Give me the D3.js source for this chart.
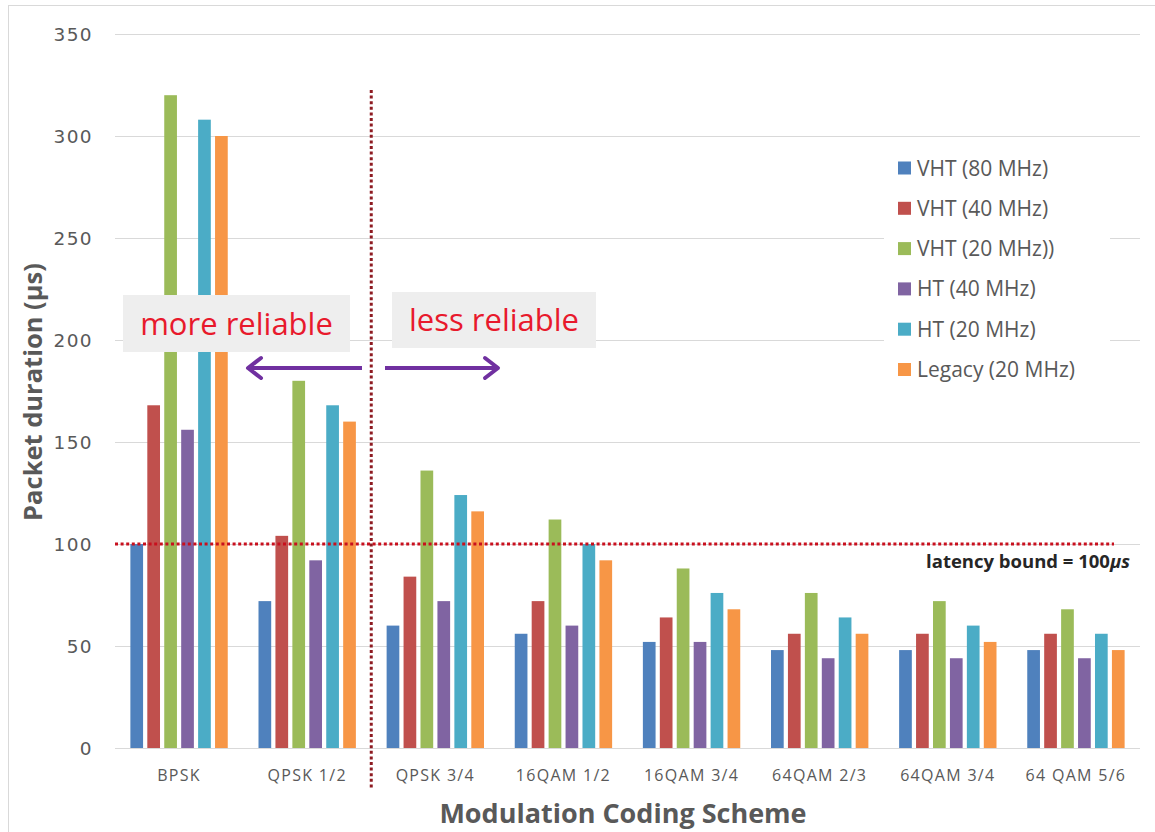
<!DOCTYPE html>
<html>
<head>
<meta charset="utf-8">
<script src="https://cdn.jsdelivr.net/npm/d3@7"></script>
<style>
  html, body { margin: 0; padding: 0; background: #fff; }
  svg { display: block; }
</style>
</head>
<body>
<svg id="chart" width="1155" height="832"></svg>
<script>
// ---- data ----
const categories = ["BPSK", "QPSK 1/2", "QPSK 3/4", "16QAM 1/2", "16QAM 3/4", "64QAM 2/3", "64QAM 3/4", "64 QAM 5/6"];
const seriesNames = ["VHT (80 MHz)", "VHT (40 MHz)", "VHT (20 MHz))", "HT (40 MHz)", "HT (20 MHz)", "Legacy (20 MHz)"];
const vht80  = [100, 72, 60, 56, 52, 48, 48, 48];
const vht40  = [168, 104, 84, 72, 64, 56, 56, 56];
const vht20  = [320, 180, 136, 112, 88, 76, 72, 68];
const ht40   = [156, 92, 72, 60, 52, 44, 44, 44];
const ht20   = [308, 168, 124, 100, 76, 64, 60, 56];
const legacy = [300, 160, 116, 92, 68, 56, 52, 48];
const yTicks = [0, 50, 100, 150, 200, 250, 300, 350];
const latencyBound = 100;
const splitAfter = "QPSK 1/2";
const colors = ["#4F81BD", "#C0504D", "#9BBB59", "#8064A2", "#4BACC6", "#F79646"];

const seriesValues = [vht80, vht40, vht20, ht40, ht20, legacy];

// ---- layout ----
const svg = d3.select("#chart");
const plotLeft = 115, plotRight = 1140, plotTop = 34, plotBottom = 748;

const x = d3.scaleBand().domain(categories).range([plotLeft, plotRight]).paddingInner(0.24).paddingOuter(0.12);
const xs = d3.scaleBand().domain(seriesNames).range([0, x.bandwidth()]).paddingInner(0.25);
const y = d3.scaleLinear().domain([0, 350]).range([plotBottom, plotTop]);

// frame
svg.append("rect").attr("x", 8.5).attr("y", 5.5).attr("width", 1160).attr("height", 840)
  .attr("fill", "none").attr("stroke", "#d9d9d9").attr("stroke-width", 1);

// gridlines
svg.append("g").selectAll("line").data(yTicks).join("line")
  .attr("x1", plotLeft).attr("x2", plotRight)
  .attr("y1", d => Math.round(y(d)) + 0.5).attr("y2", d => Math.round(y(d)) + 0.5)
  .attr("stroke", "#d9d9d9").attr("stroke-width", 1.2);

// y axis labels
const yAxis = d3.axisLeft(y).tickValues(yTicks).tickSize(0).tickPadding(0);
const yg = svg.append("g").attr("transform", `translate(93,0)`).call(yAxis);
yg.select(".domain").remove();
yg.selectAll("text").attr("font-family", "DejaVu Sans").attr("font-size", 18.5)
  .attr("letter-spacing", 1.4).attr("fill", "#595959").attr("dy", "0.35em");

// bars
const groups = svg.append("g").selectAll("g").data(categories).join("g")
  .attr("transform", d => `translate(${x(d)},0)`);
groups.selectAll("rect").data((c, ci) => seriesNames.map((s, si) => ({ s, si, v: seriesValues[si][ci] })))
  .join("rect")
  .attr("x", d => xs(d.s)).attr("width", xs.bandwidth())
  .attr("y", d => y(d.v)).attr("height", d => y(0) - y(d.v))
  .attr("fill", d => colors[d.si]);

// x axis labels
const xAxis = d3.axisBottom(x).tickSize(0).tickPadding(0);
const xg = svg.append("g").attr("transform", `translate(0,${plotBottom + 27})`).call(xAxis);
xg.select(".domain").remove();
xg.selectAll("text").attr("font-family", "Open Sans").attr("font-size", 16)
  .attr("letter-spacing", 1.3).attr("fill", "#595959").attr("dy", "0.35em");

// latency bound line
svg.append("line").attr("x1", plotLeft).attr("x2", 1114)
  .attr("y1", y(latencyBound)).attr("y2", y(latencyBound))
  .attr("stroke", "#C8101E").attr("stroke-width", 3).attr("stroke-dasharray", "3,2.6");

svg.append("text").attr("x", 1130).attr("y", y(latencyBound) + 24)
  .attr("text-anchor", "end").attr("font-family", "Open Sans").attr("font-weight", "bold")
  .attr("font-size", 18.5).attr("fill", "#262626")
  .call(t => {
    t.append("tspan").text("latency bound = " + latencyBound);
    t.append("tspan").attr("font-style", "italic").text("\u03BCs");
  });

// vertical split line
const splitIdx = categories.indexOf(splitAfter);
const splitX = x(categories[splitIdx + 1]) - x.step() * x.paddingInner() / 2;
svg.append("line").attr("x1", splitX).attr("x2", splitX)
  .attr("y1", 90).attr("y2", 790)
  .attr("stroke", "#8E1B22").attr("stroke-width", 3).attr("stroke-dasharray", "3,2.6");

// annotation boxes
function box(x0, y0, w, h, label) {
  svg.append("rect").attr("x", x0).attr("y", y0).attr("width", w).attr("height", h).attr("fill", "#EEEEEE");
  svg.append("text").attr("x", x0 + w / 2).attr("y", y0 + h / 2 + 11)
    .attr("text-anchor", "middle").attr("font-family", "Open Sans").attr("font-size", 31)
    .attr("fill", "#E8192C").text(label);
}
box(123, 295, 227, 57, "more reliable");
box(392, 292, 204, 56, "less reliable");

// arrows
const purple = "#7030A0";
function arrow(x1, x2, yy) {
  const dir = Math.sign(x2 - x1);
  svg.append("line").attr("x1", x1).attr("x2", x2 - dir * 2).attr("y1", yy).attr("y2", yy)
    .attr("stroke", purple).attr("stroke-width", 4);
  svg.append("path")
    .attr("d", `M${x2 - dir * 13},${yy - 10} L${x2},${yy} L${x2 - dir * 13},${yy + 10}`)
    .attr("fill", "none").attr("stroke", purple).attr("stroke-width", 4)
    .attr("stroke-linecap", "round").attr("stroke-linejoin", "round");
}
arrow(362, 248, 368);
arrow(385, 498, 368);

// legend
svg.append("rect").attr("x", 884).attr("y", 146).attr("width", 226).attr("height", 250).attr("fill", "#fff");
const lg = svg.append("g").selectAll("g").data(seriesNames).join("g")
  .attr("transform", (d, i) => `translate(898,${168 + i * 40.3})`);
lg.append("rect").attr("x", 0).attr("y", -6.5).attr("width", 13).attr("height", 13)
  .attr("fill", (d, i) => colors[i]);
lg.append("text").attr("x", 19).attr("y", 0).attr("dy", "0.36em")
  .attr("font-family", "Open Sans").attr("font-size", 21).attr("fill", "#595959").text(d => d);

// axis titles
svg.append("text").attr("transform", `translate(33,${392}) rotate(-90)`)
  .attr("text-anchor", "middle").attr("dy", "0.35em")
  .attr("font-family", "Open Sans").attr("font-weight", "bold").attr("font-size", 25.5)
  .attr("fill", "#595959").text("Packet duration (\u03BCs)");
svg.append("text").attr("x", 623).attr("y", 814).attr("dy", "0.35em")
  .attr("text-anchor", "middle")
  .attr("font-family", "Open Sans").attr("font-weight", "bold").attr("font-size", 27)
  .attr("fill", "#595959").text("Modulation Coding Scheme");
</script>
</body>
</html>
